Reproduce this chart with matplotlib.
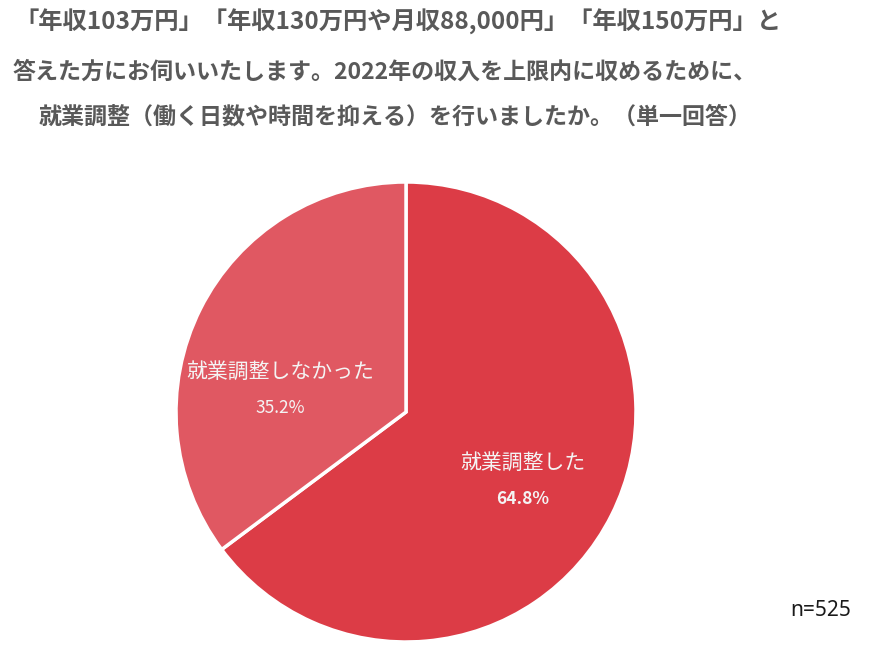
import matplotlib
matplotlib.use("Agg")
import matplotlib.pyplot as plt

plt.rcParams["font.family"] = ["Noto Sans CJK JP", "DejaVu Sans"]

# ── Data ──────────────────────────────────────────────────────────────────────
labels = ["就業調整した", "就業調整しなかった"]
shares = [64.8, 35.2]
colors = ["#DC3C46", "#E05862"]
n_total = 525

title_lines = [
    "「年収103万円」「年収130万円や月収88,000円」「年収150万円」と",
    "答えた方にお伺いいたします。2022年の収入を上限内に収めるために、",
    "就業調整（働く日数や時間を抑える）を行いましたか。（単一回答）",
]

# ── Figure: one data unit = one pixel ─────────────────────────────────────────
W, H = 870, 659
fig = plt.figure(figsize=(W / 100, H / 100), dpi=100)
ax = fig.add_axes([0, 0, 1, 1])
ax.set_xlim(0, W)
ax.set_ylim(0, H)
ax.set_aspect("equal")
ax.axis("off")

cx, cy, r = 406, H - 412, 230
ax.pie(shares, colors=colors, startangle=90, counterclock=False,
       center=(cx, cy), radius=r,
       wedgeprops=dict(edgecolor="white", linewidth=2.5))
ax.set_xlim(0, W)
ax.set_ylim(0, H)

# ── Slice labels ──────────────────────────────────────────────────────────────
label_pos = [(523, 463), (280, 372)]
for lab, val, (lx, ly) in zip(labels, shares, label_pos):
    ax.text(lx, H - ly, lab, ha="center", va="center",
            fontsize=15, color="#F4F4F4")
    ax.text(lx, H - ly - 36, f"{val:.1f}%", ha="center", va="center",
            fontsize=12.5, color="#F4F4F4",
            fontweight="bold" if val > 50 else "normal")

# ── Title ─────────────────────────────────────────────────────────────────────
title_pos = [(398, 22, 17.5), (385, 72, 16.6), (395, 117, 16.6)]
for line, (tx, ty, fs) in zip(title_lines, title_pos):
    ax.text(tx, H - ty, line, ha="center", va="center",
            fontsize=fs, fontweight="bold", color="#595959")

ax.text(821, H - 610, f"n={n_total}", ha="center", va="center",
        fontsize=15, color="#1a1a1a", family=["Noto Sans", "DejaVu Sans"])

fig.savefig("out.png", dpi=100)
